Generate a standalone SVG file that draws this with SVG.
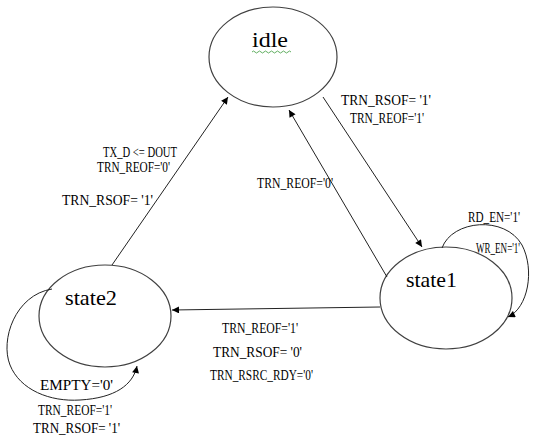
<svg xmlns="http://www.w3.org/2000/svg" width="539" height="437" viewBox="0 0 539 437">
<style>
.st{fill:#fff;stroke:#404040;stroke-width:1.2}
.nm{font-size:22px;fill:#000}
.lb{font-size:14px;fill:#000}
.cn{fill:none;stroke:#222;stroke-width:1}
</style>
<defs>
<marker id="ah" viewBox="0 0 10 10" refX="10" refY="5" markerUnits="userSpaceOnUse" markerWidth="9" markerHeight="7" orient="auto">
<path d="M0,0 L10,5 L0,10 z" fill="#000"/>
</marker>
</defs>
<g font-family="Liberation Serif, DejaVu Serif, serif">
<g id="idle">
<ellipse class="st" cx="273" cy="57" rx="64" ry="50"/>
<text class="nm" x="252" y="47" textLength="36" lengthAdjust="spacingAndGlyphs">idle</text>
<path d="M252,52 q1.5,-2 3,0 t3,0 t3,0 t3,0 t3,0 t3,0 t3,0 t3,0 t3,0 t3,0 t3,0 t3,0 t3,0" fill="none" stroke="#3a9a3a" stroke-width="0.8"/>
</g>
<g id="state1">
<ellipse class="st" cx="446" cy="298" rx="66" ry="51"/>
<text class="nm" x="406" y="287" textLength="51" lengthAdjust="spacingAndGlyphs">state1</text>
</g>
<g id="state2">
<ellipse class="st" cx="105" cy="316" rx="66" ry="51"/>
<text class="nm" x="65" y="305" textLength="52" lengthAdjust="spacingAndGlyphs">state2</text>
</g>
<g id="connectors">
<line class="cn" x1="323" y1="97" x2="422" y2="247" marker-end="url(#ah)"/>
<line class="cn" x1="387" y1="277" x2="289" y2="110" marker-end="url(#ah)"/>
<line class="cn" x1="112" y1="265" x2="228" y2="97" marker-end="url(#ah)"/>
<line class="cn" x1="380" y1="307" x2="172" y2="310" marker-end="url(#ah)"/>
<path class="cn" d="M442,248 C452,220 505,215 522,245 C535,270 528,308 508,317" marker-end="url(#ah)"/>
<path class="cn" d="M52,289 C15,295 0,340 10,365 C20,390 50,402 80,400 C115,398 133,385 137,366" marker-end="url(#ah)"/>
</g>
<g id="labels">
<text class="lb" x="341" y="105" font-size="16" textLength="90" lengthAdjust="spacingAndGlyphs">TRN_RSOF= '1'</text>
<text class="lb" x="350" y="123" textLength="74" lengthAdjust="spacingAndGlyphs">TRN_REOF='1'</text>
<text class="lb" x="103" y="157" textLength="74" lengthAdjust="spacingAndGlyphs">TX_D &lt;= DOUT</text>
<text class="lb" x="97" y="172" textLength="73" lengthAdjust="spacingAndGlyphs">TRN_REOF='0'</text>
<text class="lb" x="62" y="205" font-size="15" textLength="91" lengthAdjust="spacingAndGlyphs">TRN_RSOF= '1'</text>
<text class="lb" x="257" y="188" textLength="76" lengthAdjust="spacingAndGlyphs">TRN_REOF='0'</text>
<text class="lb" x="468" y="222" textLength="52" lengthAdjust="spacingAndGlyphs">RD_EN='1'</text>
<text class="lb" x="476" y="253" textLength="44" lengthAdjust="spacingAndGlyphs">WR_EN='1'</text>
<text class="lb" x="222" y="333" textLength="76" lengthAdjust="spacingAndGlyphs">TRN_REOF='1'</text>
<text class="lb" x="213" y="357" textLength="89" lengthAdjust="spacingAndGlyphs">TRN_RSOF= '0'</text>
<text class="lb" x="210" y="380" textLength="103" lengthAdjust="spacingAndGlyphs">TRN_RSRC_RDY='0'</text>
<text class="lb" x="40" y="390" font-size="17" textLength="73" lengthAdjust="spacingAndGlyphs">EMPTY='0'</text>
<text class="lb" x="38" y="415" textLength="74" lengthAdjust="spacingAndGlyphs">TRN_REOF='1'</text>
<text class="lb" x="33" y="433" font-size="15" textLength="87" lengthAdjust="spacingAndGlyphs">TRN_RSOF= '1'</text>
</g>
</g>
</svg>
